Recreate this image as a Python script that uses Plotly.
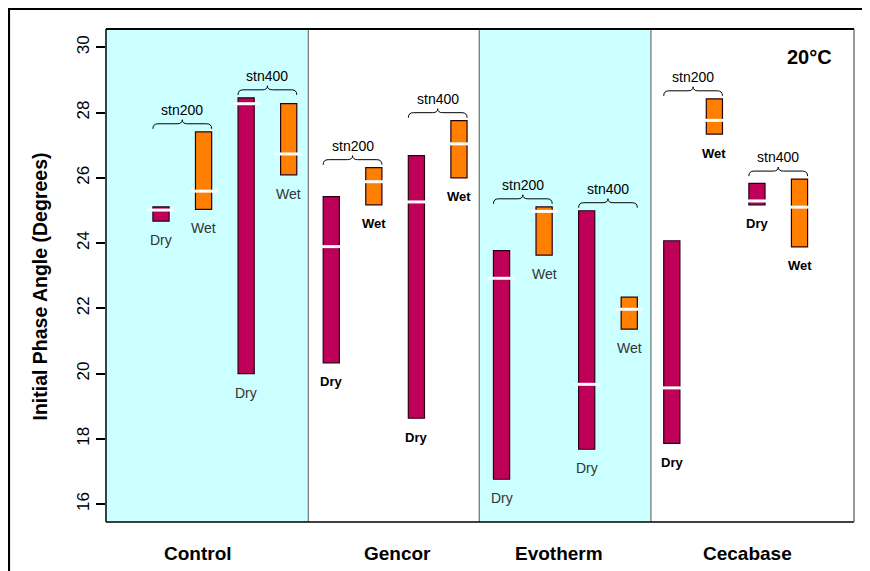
import plotly.graph_objects as go

# ---------------- data ----------------
blends = ["Control", "Gencor", "Evotherm", "Cecabase"]
stns = ["stn200", "stn400"]
conds = ["Dry", "Wet"]
# order per blend: stn200-Dry, stn200-Wet, stn400-Dry, stn400-Wet
low = {
    "Control":  [24.67, 25.03, 20.00, 26.09],
    "Gencor":   [20.33, 25.17, 18.63, 26.00],
    "Evotherm": [16.76, 23.63, 17.68, 21.36],
    "Cecabase": [17.86, 27.34, 25.17, 23.88],
}
high = {
    "Control":  [25.11, 27.41, 28.45, 28.27],
    "Gencor":   [25.42, 26.31, 26.68, 27.75],
    "Evotherm": [23.77, 25.11, 24.99, 22.34],
    "Cecabase": [24.07, 28.42, 25.83, 25.96],
}
median = {
    "Control":  [25.01, 25.59, 28.27, 26.73],
    "Gencor":   [23.89, 25.88, 25.26, 27.04],
    "Evotherm": [22.92, 24.97, 19.67, 21.97],
    "Cecabase": [19.56, 27.76, 25.29, 25.10],
}
temperature_label = "20°C"
y_ticks = [16, 18, 20, 22, 24, 26, 28, 30]
y_title = "Initial Phase Angle (Degrees)"

# ---------------- styling ----------------
FONT = "Liberation Sans, Arial, sans-serif"
COL = {"Dry": "#BF0058", "Wet": "#FF8000"}
PANEL_BG = ["#CCFFFF", "#FFFFFF", "#CCFFFF", "#FFFFFF"]
LABEL_BOLD = [False, True, False, True]
BAR_W = 0.38

fig = go.Figure()
shapes = []
annotations = []

for bi, b in enumerate(blends):
    for k in range(4):
        pos = bi * 4 + k
        cond = conds[k % 2]
        lo, hi, md = low[b][k], high[b][k], median[b][k]
        fig.add_trace(go.Bar(
            x=[pos], y=[hi - lo], base=[lo], width=BAR_W,
            marker=dict(color=COL[cond], line=dict(color="#2a0010", width=1.2)),
            showlegend=False, hoverinfo="skip"))
        fig.add_trace(go.Scatter(
            x=[pos], y=[md], mode="markers",
            marker=dict(symbol="line-ew", size=19,
                        line=dict(color="white", width=3)),
            showlegend=False, hoverinfo="skip"))
        bold = LABEL_BOLD[bi]
        annotations.append(dict(
            x=pos, y=lo, xref="x", yref="y", yshift=-19, showarrow=False,
            text=("<b>%s</b>" % cond) if bold else cond,
            font=dict(family=FONT, size=13 if bold else 14,
                      color="#000" if bold else "#333"),
            xanchor="center", yanchor="middle"))
    # braces
    for si, s in enumerate(stns):
        p0 = bi * 4 + si * 2
        xl = p0 - BAR_W / 2
        xr = p0 + 1 + BAR_W / 2
        xm = (xl + xr) / 2
        top = max(high[b][si * 2], high[b][si * 2 + 1])
        r = 0.12
        path = (f"M {xl},3 Q {xl},8 {xl + r},8 L {xm - r},8 Q {xm},8 {xm},12 "
                f"Q {xm},8 {xm + r},8 L {xr - r},8 Q {xr},8 {xr},3")
        shapes.append(dict(type="path", path=path, xref="x", yref="y",
                           ysizemode="pixel", yanchor=top,
                           line=dict(color="black", width=1), layer="above"))
        annotations.append(dict(
            x=xm, y=top, xref="x", yref="y", yshift=22, showarrow=False,
            text=s, font=dict(family=FONT, size=14, color="black"),
            xanchor="center", yanchor="middle"))

# panel backgrounds and separators
bounds = [-1.292, 3.46, 7.475, 11.51, 16.28]
for i in range(4):
    shapes.append(dict(type="rect", xref="x", yref="paper",
                       x0=bounds[i], x1=bounds[i + 1], y0=0, y1=1,
                       fillcolor=PANEL_BG[i], line=dict(width=0), layer="below"))
for i in range(1, 4):
    shapes.append(dict(type="line", xref="x", yref="paper",
                       x0=bounds[i], x1=bounds[i], y0=0, y1=1,
                       line=dict(color="#555", width=1), layer="above"))

# plot frame
shapes.append(dict(type="line", xref="paper", yref="paper", x0=0, x1=1, y0=1, y1=1,
                   line=dict(color="black", width=2)))
shapes.append(dict(type="line", xref="paper", yref="paper", x0=0, x1=1, y0=0, y1=0,
                   line=dict(color="black", width=1.5)))
shapes.append(dict(type="line", xref="paper", yref="paper", x0=0, x1=0, y0=0, y1=1,
                   line=dict(color="black", width=1.5)))
shapes.append(dict(type="line", xref="paper", yref="paper", x0=1, x1=1, y0=0, y1=1,
                   line=dict(color="#555", width=1.2)))
# outer frame (top and left edges visible)
shapes.append(dict(type="rect", xref="paper", yref="paper",
                   x0=-0.1297, x1=1.04, y0=-0.14, y1=1.0406,
                   line=dict(color="black", width=2.2), fillcolor="rgba(0,0,0,0)"))

# category labels
cat_x = [0.87, 5.55, 9.35, 13.77]
for b, cx in zip(blends, cat_x):
    annotations.append(dict(x=cx, y=-0.063, xref="x", yref="paper", showarrow=False,
                            text="<b>%s</b>" % b,
                            font=dict(family=FONT, size=19, color="black"),
                            xanchor="center", yanchor="middle"))
annotations.append(dict(x=0.9405, y=0.9432, xref="paper", yref="paper", showarrow=False,
                        text="<b>%s</b>" % temperature_label,
                        font=dict(family=FONT, size=20, color="black"),
                        xanchor="center", yanchor="middle"))
annotations.append(dict(x=-0.088, y=0.478, xref="paper", yref="paper", showarrow=False,
                        text="<b>%s</b>" % y_title, textangle=-90,
                        font=dict(family=FONT, size=19.5, color="black"),
                        xanchor="center", yanchor="middle"))

# page body adds an 8px margin, so the figure is sized / placed to compensate
fig.update_layout(
    width=862, height=563,
    margin=dict(l=98, r=16, t=21, b=49),
    paper_bgcolor="white", plot_bgcolor="white",
    barmode="overlay",
    shapes=shapes, annotations=annotations,
    xaxis=dict(range=[-1.292, 16.28], showticklabels=False, showgrid=False,
               zeroline=False, ticks="", fixedrange=True),
    yaxis=dict(range=[15.45, 30.56], tickvals=y_ticks, ticks="outside", ticklen=9,
               tickwidth=1.5, tickcolor="black", tickangle=-90, showgrid=False,
               zeroline=False, showline=False,
               tickfont=dict(family=FONT, size=17, color="black")),
    showlegend=False,
)

fig.write_html("out.html")
